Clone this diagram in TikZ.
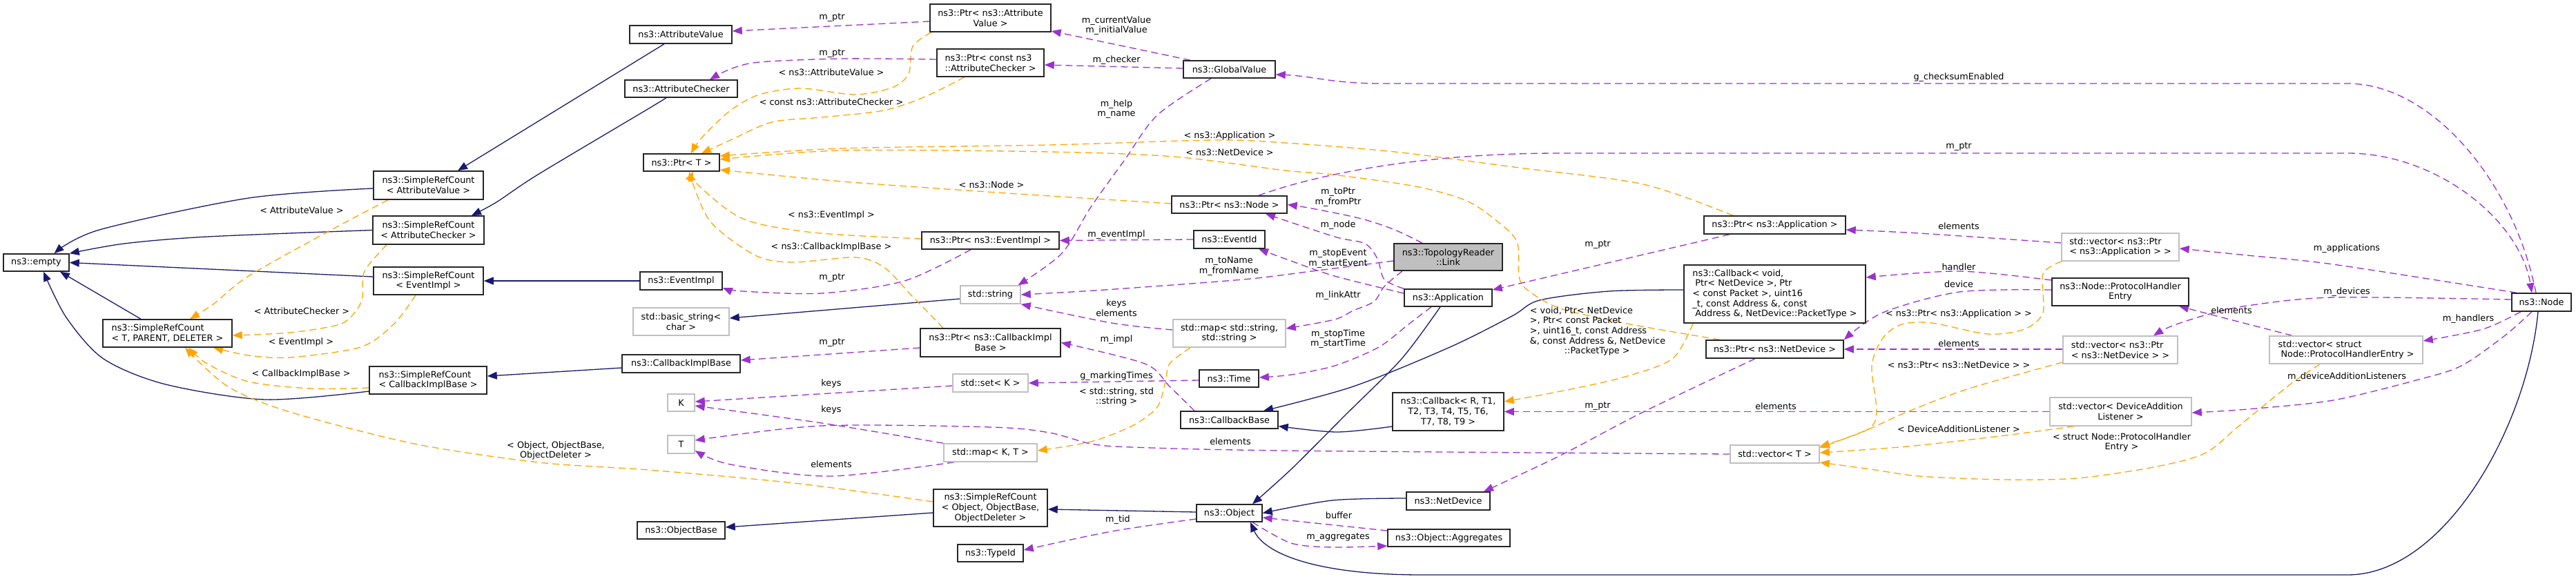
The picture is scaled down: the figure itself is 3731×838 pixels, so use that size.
\documentclass[tikz,border=0pt]{standalone}
\usepackage{fontspec}
\setmainfont{DejaVu Sans}
\usetikzlibrary{arrows.meta}
\definecolor{inh}{HTML}{191970}
\definecolor{usec}{HTML}{9A32CD}
\definecolor{tpl}{HTML}{FFA500}
\definecolor{grayb}{HTML}{BFBFBF}
\pgfdeclarelayer{edges}
\pgfsetlayers{edges,main}
\begin{document}
\begin{tikzpicture}[x=1pt,y=-1pt,
  font=\fontsize{12.8}{14.7}\selectfont,
  box/.style={draw=black!85, fill=white, line width=1.5pt, inner sep=0pt, align=center},
  gbox/.style={box, draw=grayb},
  sz/.style 2 args={minimum width=#1, minimum height=#2},
  tip/.style={-{Triangle[length=14pt,width=11pt]}},
  inhe/.style={color=inh, line width=1.3pt, tip},
  usee/.style={color=usec, line width=1.3pt, dash pattern=on 10pt off 6pt, tip},
  tple/.style={color=tpl, line width=1.3pt, dash pattern=on 10pt off 6pt, tip},
  lbl/.style={inner sep=0pt, align=center}
]
\useasboundingbox (0,0) rectangle (3731,838);
% ---------------- nodes
\node[box,sz={95pt}{25pt}] (empty) at (52.5,380.5) {ns3::empty};
\node[box,sz={159pt}{41pt}] (srcAV) at (620.5,268.5) {ns3::SimpleRefCount\\< AttributeValue >};
\node[box,sz={161pt}{41pt}] (srcAC) at (620.5,333.5) {ns3::SimpleRefCount\\< AttributeChecker >};
\node[box,sz={159pt}{40pt}] (srcEI) at (620.5,407) {ns3::SimpleRefCount\\< EventImpl >};
\node[box,sz={187pt}{40pt},align=left] (srcT) at (242.5,483) {ns3::SimpleRefCount\\< T, PARENT, DELETER >};
\node[box,sz={170pt}{40pt},align=left] (srcCIB) at (620,551) {ns3::SimpleRefCount\\< CallbackImplBase >};
\node[box,sz={148pt}{26pt}] (attrValue) at (986,50) {ns3::AttributeValue};
\node[box,sz={163pt}{25pt}] (attrChecker) at (986.5,128.5) {ns3::AttributeChecker};
\node[box,sz={110pt}{25pt}] (ptrT) at (987,235.5) {ns3::Ptr< T >};
\node[box,sz={119pt}{26pt}] (eventImpl) at (986.5,407) {ns3::EventImpl};
\node[gbox,sz={139pt}{40pt}] (basicString) at (986.5,466) {std::basic\_string<\\char >};
\node[box,sz={171pt}{26pt}] (cbImplBase) at (986.5,527) {ns3::CallbackImplBase};
\node[gbox,sz={39pt}{25pt}] (K) at (986.5,583.5) {K};
\node[gbox,sz={39pt}{26pt}] (T) at (986.5,644) {T};
\node[box,sz={127pt}{25pt}] (objectBase) at (986.5,768.5) {ns3::ObjectBase};
\node[box,sz={175pt}{40pt}] (ptrAV) at (1434.5,26) {ns3::Ptr< ns3::Attribute\\Value >};
\node[box,sz={155pt}{40pt},align=left] (ptrCAC) at (1434.5,91) {ns3::Ptr< const ns3\\::AttributeChecker >};
\node[box,sz={199pt}{25pt}] (ptrEI) at (1434.5,348.5) {ns3::Ptr< ns3::EventImpl >};
\node[gbox,sz={87pt}{26pt}] (stdString) at (1434.5,427) {std::string};
\node[box,sz={203pt}{41pt}] (ptrCIB) at (1434.5,496.5) {ns3::Ptr< ns3::CallbackImpl\\Base >};
\node[gbox,sz={109pt}{26pt}] (stdSet) at (1434.5,555) {std::set< K >};
\node[gbox,sz={135pt}{26pt}] (mapKT) at (1434.5,656) {std::map< K, T >};
\node[box,sz={165pt}{54pt}] (srcObj) at (1434.5,736) {ns3::SimpleRefCount\\< Object, ObjectBase,\\ObjectDeleter >};
\node[box,sz={95pt}{25pt}] (typeId) at (1434.5,801.5) {ns3::TypeId};
\node[box,sz={133pt}{25pt}] (globalValue) at (1780.5,100.5) {ns3::GlobalValue};
\node[box,sz={167pt}{25pt}] (ptrNode) at (1780.5,296.5) {ns3::Ptr< ns3::Node >};
\node[box,sz={103pt}{26pt}] (eventId) at (1780.5,347) {ns3::EventId};
\node[gbox,sz={163pt}{40pt}] (mapSS) at (1780.5,483) {std::map< std::string,\\std::string >};
\node[box,sz={86pt}{25pt}] (time) at (1780,548.5) {ns3::Time};
\node[box,sz={141pt}{25pt}] (cbBase) at (1780.5,608.5) {ns3::CallbackBase};
\node[box,sz={95pt}{25pt}] (object) at (1780.5,743.5) {ns3::Object};
\node[box,fill=grayb,sz={157pt}{39pt}] (link) at (2097.5,372.5) {ns3::TopologyReader\\::Link};
\node[box,sz={127pt}{25pt}] (application) at (2097.5,431.5) {ns3::Application};
\node[box,sz={161pt}{55pt}] (cbR) at (2097.5,596.5) {ns3::Callback< R, T1,\\T2, T3, T4, T5, T6,\\T7, T8, T9 >};
\node[box,sz={121pt}{26pt}] (netDevice) at (2097.5,726) {ns3::NetDevice};
\node[box,sz={177pt}{25pt}] (aggregates) at (2098.5,779.5) {ns3::Object::Aggregates};
\node[box,sz={205pt}{26pt}] (ptrApp) at (2570.5,326) {ns3::Ptr< ns3::Application >};
\node[box,sz={263pt}{84pt},align=left] (cbVoid) at (2570.5,426) {ns3::Callback< void,\\\hspace*{4pt}Ptr< NetDevice >, Ptr\\< const Packet >, uint16\\\_t, const Address \&, const\\\hspace*{4pt}Address \&, NetDevice::PacketType >};
\node[box,sz={199pt}{26pt}] (ptrND) at (2570.5,506) {ns3::Ptr< ns3::NetDevice >};
\node[gbox,sz={129pt}{26pt}] (vecT) at (2570.5,658) {std::vector< T >};
\node[gbox,sz={170pt}{40pt},align=left] (vecApp) at (3071,358) {std::vector< ns3::Ptr\\< ns3::Application > >};
\node[box,sz={198pt}{40pt}] (phe) at (3071,423) {ns3::Node::ProtocolHandler\\Entry};
\node[gbox,sz={166pt}{40pt},align=left] (vecND) at (3071,507) {std::vector< ns3::Ptr\\< ns3::NetDevice > >};
\node[gbox,sz={205pt}{41pt}] (vecDAL) at (3071.5,596.5) {std::vector< DeviceAddition\\Listener >};
\node[gbox,sz={222pt}{40pt},align=left] (vecPHE) at (3398,507) {std::vector< struct\\\hspace*{4pt}Node::ProtocolHandlerEntry >};
\node[box,sz={86pt}{26pt}] (node) at (3681,438) {ns3::Node};
% ---------------- edges
\begin{pgfonlayer}{edges}
\fill[white] (0,0) rectangle (3731,838);
% inheritance
\draw[inhe] plot[smooth] coordinates {([yshift=-4.5pt]srcAV.west) (360,287) (144,333) ([xshift=26pt]empty.north)};
\draw[inhe] plot[smooth] coordinates {(srcAC.west) (300,343) (180,353) (empty.north east)};
\draw[inhe] ([yshift=6pt]srcEI.west) -- (empty.east);
\draw[inhe] ([xshift=-38.5pt]srcT.north) -- ([xshift=34.5pt]empty.south);
\draw[inhe] plot[smooth] coordinates {([yshift=-16pt]srcCIB.west) (384,579) (240,557) (150,520) (96,460) ([xshift=10.5pt]empty.south)};
\draw[inhe] ([xshift=-24pt]attrValue.south) -- ([xshift=42.5pt]srcAV.north);
\draw[inhe] plot[smooth] coordinates {([xshift=-21.5pt]attrChecker.south) (935,160) (779,253) (719,293) ([xshift=62.5pt]srcAC.north)};
\draw[inhe] (eventImpl.west) -- (srcEI.east);
\draw[inhe] ([yshift=-6pt]cbImplBase.west) -- ([yshift=6pt]srcCIB.east);
\draw[inhe] ([yshift=-6pt]stdString.west) -- ([yshift=5pt]basicString.east);
\draw[inhe] ([yshift=1.5pt]object.west) -- ([yshift=-2pt]srcObj.east);
\draw[inhe] ([yshift=-7pt]srcObj.west) -- ([yshift=4.5pt]objectBase.east);
\draw[inhe] plot[smooth] coordinates {([xshift=-11.5pt]application.south) (2030,520) (1950,600) (1870,680) ([xshift=33.5pt]object.north)};
\draw[inhe] plot[smooth] coordinates {([yshift=4pt]netDevice.west) (1930,725) (object.east)};
\draw[inhe] ([xshift=-5pt]node.south) .. controls (3660,620) and (3540,833) .. (3400,833) -- (2060,833) .. controls (1900,833) and (1830,800) .. ([xshift=30.5pt]object.south);
\draw[inhe] plot[smooth] coordinates {([yshift=6pt]cbVoid.west) (2330,422) (2230,435) (2190,458) (2100,503) (1960,560) ([xshift=49.5pt]cbBase.north)};
\draw[inhe] plot[smooth] coordinates {([yshift=-21.5pt]cbR.west) (1936,626) ([yshift=-9pt]cbBase.east)};
% templates
\draw[tple] plot[smooth] coordinates {([xshift=-58.5pt]srcAV.south) (480,333) (360,400) (310,440) ([xshift=32.5pt]srcT.north)};
\draw[tple] plot[smooth] coordinates {([xshift=-60.5pt]srcAC.south) (528,393) (525,430) (516,450) (492,470) (420,482) ([yshift=-3pt]srcT.east)};
\draw[tple] plot[smooth] coordinates {([xshift=-18.5pt]srcEI.south) (570,470) (522,503) (420,518) (360,515) ([xshift=66.5pt]srcT.south)};
\draw[tple] plot[smooth] coordinates {([yshift=-11pt]srcCIB.west) (450,563) (360,553) (300,527) ([xshift=30.5pt]srcT.south)};
\draw[tple] plot[smooth] coordinates {([yshift=9pt]srcObj.west) (1150,700) (940,681) (780,670) (600,643) (420,597) (330,560) ([xshift=25.5pt]srcT.south)};
\draw[tple] plot[smooth] coordinates {([xshift=-85.5pt]ptrAV.south) (1322,67) (1316,107) (1292,127) (1238,137) (1160,128) (1100,137) (1058,160) (1016,200) ([xshift=14pt]ptrT.north)};
\draw[tple] plot[smooth] coordinates {([xshift=-37.5pt]ptrCAC.south) (1340,140) (1280,160) (1190,170) (1118,177) (1058,203) ([xshift=29pt]ptrT.north)};
\draw[tple] plot[smooth] coordinates {([xshift=-60.5pt]ptrApp.north) (2380,267) (2200,243) (2020,220) (1861,207) (1760,203) (1520,210) (1220,215) ([yshift=9.5pt]ptrT.east)};
\draw[tple] plot[smooth] coordinates {([xshift=-79.5pt]ptrND.north) (2362,470) (2260,447) (2212,420) (2200,400) (2197,350) (2164,317) (2122,290) (2050,270) (1930,253) (1861,247) (1700,227) (1520,220) (1220,218) ([yshift=4.5pt]ptrT.east)};
\draw[tple] plot[smooth] coordinates {([yshift=1.5pt]ptrNode.west) (1460,280) (1220,263) ([yshift=-10.5pt]ptrT.east)};
\draw[tple] plot[smooth] coordinates {([yshift=2.5pt]ptrEI.west) (1178,337) (1076,317) (1010,267) ([xshift=17pt]ptrT.south)};
\draw[tple] plot[smooth] coordinates {([xshift=-68.5pt]ptrCIB.north) (1322,430) (1280,387) (1238,373) (1148,380) (1094,370) (1028,320) ([xshift=11pt]ptrT.south)};
\draw[tple] plot[smooth] coordinates {([xshift=-56.5pt]mapSS.south) (1694,527) (1688,553) (1676,590) (1640,617) (1580,640) ([yshift=3pt]mapKT.east)};
\draw[tple] plot[smooth] coordinates {([xshift=-118.5pt]cbVoid.south) (2422,520) (2350,547) (2260,567) ([yshift=14.5pt]cbR.east)};
\draw[tple] plot[smooth] coordinates {([xshift=-85pt]vecApp.south) (2959,397) (2959,453) (2932,477) (2879,484) (2798,468) (2754,470) (2727,490) (2711,530) (2718,597) (2704,623) ([yshift=11pt]vecT.east)};
\draw[tple] plot[smooth] coordinates {([yshift=-18pt]vecND.west) (2852,563) (2762,597) (2704,623) ([yshift=9pt]vecT.east)};
\draw[tple] plot[smooth] coordinates {([xshift=-67.5pt]vecDAL.south) (2896,632) (2762,647) ([yshift=2pt]vecT.east)};
\draw[tple] plot[smooth] coordinates {([xshift=-38pt]vecPHE.south) (3317,557) (3243,617) (3193,657) (3119,677) (3008,693) (2902,695) (2780,690) (2710,680) ([yshift=-12pt]vecT.east)};
% usage
\draw[usee] ([yshift=-5pt]ptrAV.west) -- ([yshift=5pt]attrValue.east);
\draw[usee] plot[smooth] coordinates {([yshift=5pt]ptrCAC.west) (1220,85) (1100,90) (1058,100) ([xshift=41.5pt]attrChecker.north)};
\draw[usee] ([xshift=-56.5pt]globalValue.north) -- ([yshift=-19pt]ptrAV.east);
\draw[usee] ([yshift=1.5pt]globalValue.west) -- ([yshift=-3pt]ptrCAC.east);
\draw[usee] plot[smooth] coordinates {([xshift=-26.5pt]globalValue.south) (1676,167) (1628,233) (1580,300) (1538,367) ([xshift=40pt]stdString.north)};
\draw[usee] ([xshift=-8pt]node.north) .. controls (3640,260) and (3520,121) .. (3400,121) -- (2000,121) .. controls (1930,121) and (1900,110) .. ([yshift=-7.5pt]globalValue.east);
\draw[usee] ([xshift=42.5pt]ptrNode.north) .. controls (1900,255) and (2050,222) .. (2260,222) -- (3400,222) .. controls (3530,222) and (3650,320) .. ([xshift=-14pt]node.north);
\draw[usee] plot[smooth] coordinates {([xshift=-37.5pt]link.north) (2020,333) (1972,317) (1900,302) (ptrNode.east)};
\draw[usee] plot[smooth] coordinates {(application.north west) (2005,405) (1995,375) (1977,353) (1933,343) ([xshift=52.5pt]ptrNode.south)};
\draw[usee] plot[smooth] coordinates {([yshift=6.5pt]application.west) (1933,400) (1867,377) ([xshift=42.5pt]eventId.south)};
\draw[usee] plot[smooth] coordinates {([yshift=-5.5pt]link.west) (1900,393) (1800,405) (1600,420) (stdString.east)};
\draw[usee] plot[smooth] coordinates {([xshift=-66.5pt]link.south) (2005,415) (1990,437) (1960,450) (1933,463) ([yshift=7pt]mapSS.east)};
\draw[usee] plot[smooth] coordinates {([xshift=-24.5pt]application.south) (2040,470) (1997,503) (1933,530) (1870,543) ([yshift=1.5pt]time.east)};
\draw[usee] ([xshift=-65.5pt]ptrApp.south) -- ([yshift=11.5pt]application.east);
\draw[usee] plot[smooth] coordinates {([yshift=6pt]vecApp.west) (2780,338) ([yshift=-7pt]ptrApp.east)};
\draw[usee] plot[smooth] coordinates {([xshift=-36pt]node.north) (3379,383) (3255,370) ([yshift=-2pt]vecApp.east)};
\draw[usee] plot[smooth] coordinates {([yshift=17pt]phe.west) (2838,393) ([yshift=24pt]cbVoid.east)};
\draw[usee] plot[smooth] coordinates {([yshift=3pt]phe.west) (2838,423) (2727,453) (ptrND.north east)};
\draw[usee] ([yshift=1pt]vecND.west) -- (ptrND.east);
\draw[usee] plot[smooth] coordinates {([yshift=4pt]node.west) (3379,431) (3255,443) (3193,457) (3144,473) ([xshift=48pt]vecND.north)};
\draw[usee] plot[smooth] coordinates {([xshift=-78pt]vecPHE.north) (3230,463) ([xshift=85pt]phe.south)};
\draw[usee] plot[smooth] coordinates {([xshift=-30pt]node.south) (3596,477) ([yshift=13pt]vecPHE.east)};
\draw[usee] plot[smooth] coordinates {([xshift=-14pt]node.south) (3627,487) (3565,530) (3503,550) (3379,580) (3255,593) ([yshift=-1.5pt]vecDAL.east)};
\draw[usee] (vecDAL.west) -- (cbR.east);
\draw[usee] plot[smooth] coordinates {([xshift=-28.5pt]ptrND.south) (2380,597) (2260,660) ([xshift=51.5pt]netDevice.north)};
\draw[usee] plot[smooth] coordinates {([xshift=-50.5pt]cbBase.north) (1694,560) (1658,527) (ptrCIB.east)};
\draw[usee] ([yshift=-7.5pt]ptrCIB.west) -- ([yshift=5pt]cbImplBase.east);
\draw[usee] ([yshift=-2.5pt]time.west) -- (stdSet.east);
\draw[usee] ([yshift=-4pt]stdSet.west) -- ([yshift=1.5pt]K.east);
\draw[usee] plot[smooth] coordinates {(mapKT.north west) (1190,613) ([yshift=-4.5pt]K.east)};
\draw[usee] plot[smooth] coordinates {([xshift=-52.5pt]mapKT.south) (1202,690) (1058,673) ([yshift=-9pt]T.east)};
\draw[usee] plot[smooth] coordinates {(vecT.west) (1861,653) (1640,648) (1580,643) (1520,627) (1436,619) (1190,617) ([yshift=6pt]T.east)};
\draw[usee] plot[smooth] coordinates {([yshift=5pt]mapSS.west) (1610,468) (stdString.south east)};
\draw[usee] (eventId.west) -- (ptrEI.east);
\draw[usee] plot[smooth] coordinates {([xshift=-28.5pt]ptrEI.south) (1310,407) (1190,425) (1076,422) ([yshift=-10pt]eventImpl.east)};
\draw[usee] plot[smooth] coordinates {([yshift=-8.5pt]object.west) (1610,770) ([yshift=4.5pt]typeId.east)};
\draw[usee] ([yshift=10.5pt]aggregates.west) -- ([yshift=-6.5pt]object.east);
\draw[usee] plot[smooth] coordinates {([xshift=33.5pt]object.south) (1870,787) (1930,793) ([yshift=-11.5pt]aggregates.west)};
\end{pgfonlayer}
% ---------------- labels
\node[lbl] (l1) at (437,305) {< AttributeValue >};
\node[lbl] (l2) at (437,451) {< AttributeChecker >};
\node[lbl] (l3) at (436,496) {< EventImpl >};
\node[lbl] (l4) at (436,542) {< CallbackImplBase >};
\node[lbl] (l5) at (805,653) {< Object, ObjectBase,\\ObjectDeleter >};
\node[lbl] (l6) at (1205,26) {m\_ptr};
\node[lbl] (l7) at (1205,78) {m\_ptr};
\node[lbl] (l8) at (1204,105) {< ns3::AttributeValue >};
\node[lbl] (l9) at (1204,148) {< const ns3::AttributeChecker >};
\node[lbl] (l10) at (1617,37) {m\_currentValue\\m\_initialValue};
\node[lbl] (l11) at (1617,87) {m\_checker};
\node[lbl] (l12) at (1617,158) {m\_help\\m\_name};
\node[lbl] (l13) at (1781,197) {< ns3::Application >};
\node[lbl] (l14) at (1781,221) {< ns3::NetDevice >};
\node[lbl] (l15) at (1436,268) {< ns3::Node >};
\node[lbl] (l16) at (1204,312) {< ns3::EventImpl >};
\node[lbl] (l17) at (1617,340) {m\_eventImpl};
\node[lbl] (l18) at (1204,358) {< ns3::CallbackImplBase >};
\node[lbl] (l19) at (1205,403) {m\_ptr};
\node[lbl] (l20) at (1780,386) {m\_toName\\m\_fromName};
\node[lbl] (l21) at (1617,446) {keys\\elements};
\node[lbl] (l22) at (1205,497) {m\_ptr};
\node[lbl] (l23) at (1617,492) {m\_impl};
\node[lbl] (l24) at (1617,545) {g\_markingTimes};
\node[lbl] (l25) at (1204,556) {keys};
\node[lbl] (l26) at (1617,575) {< std::string, std\\::string >};
\node[lbl] (l27) at (1204,594) {keys};
\node[lbl] (l28) at (1782,640) {elements};
\node[lbl] (l29) at (1204,673) {elements};
\node[lbl] (l30) at (1619,753) {m\_tid};
\node[lbl] (l31) at (2837,112) {g\_checksumEnabled};
\node[lbl] (l32) at (2837,213) {m\_ptr};
\node[lbl] (l33) at (1938,286) {m\_toPtr\\m\_fromPtr};
\node[lbl] (l34) at (1938,326) {m\_node};
\node[lbl] (l35) at (1938,375) {m\_stopEvent\\m\_startEvent};
\node[lbl] (l36) at (1938,428) {m\_linkAttr};
\node[lbl] (l37) at (1938,491) {m\_stopTime\\m\_startTime};
\node[lbl] (l38) at (2314,355) {m\_ptr};
\node[lbl,align=left] (l39) at (2314,480) {< void, Ptr< NetDevice\\>, Ptr< const Packet\\>, uint16\_t, const Address\\\&, const Address \&, NetDevice\\\hspace*{50pt}::PacketType >};
\node[lbl] (l40) at (2314,589) {m\_ptr};
\node[lbl] (l41) at (2572,589) {elements};
\node[lbl] (l42) at (1939,747) {buffer};
\node[lbl] (l43) at (1938,779) {m\_aggregates};
\node[lbl] (l44) at (2837,328) {elements};
\node[lbl] (l45) at (2837,387) {handler};
\node[lbl] (l46) at (2837,412) {device};
\node[lbl] (l47) at (2837,455) {< ns3::Ptr< ns3::Application > >};
\node[lbl] (l48) at (2837,498) {elements};
\node[lbl] (l49) at (2837,529) {< ns3::Ptr< ns3::NetDevice > >};
\node[lbl] (l50) at (2837,622) {< DeviceAdditionListener >};
\node[lbl] (l51) at (3399,360) {m\_applications};
\node[lbl] (l52) at (3399,423) {m\_devices};
\node[lbl] (l53) at (3232,450) {elements};
\node[lbl] (l54) at (3575,462) {m\_handlers};
\node[lbl] (l55) at (3399,546) {m\_deviceAdditionListeners};
\node[lbl] (l56) at (3073,641) {< struct Node::ProtocolHandler\\Entry >};
\end{tikzpicture}
\end{document}
